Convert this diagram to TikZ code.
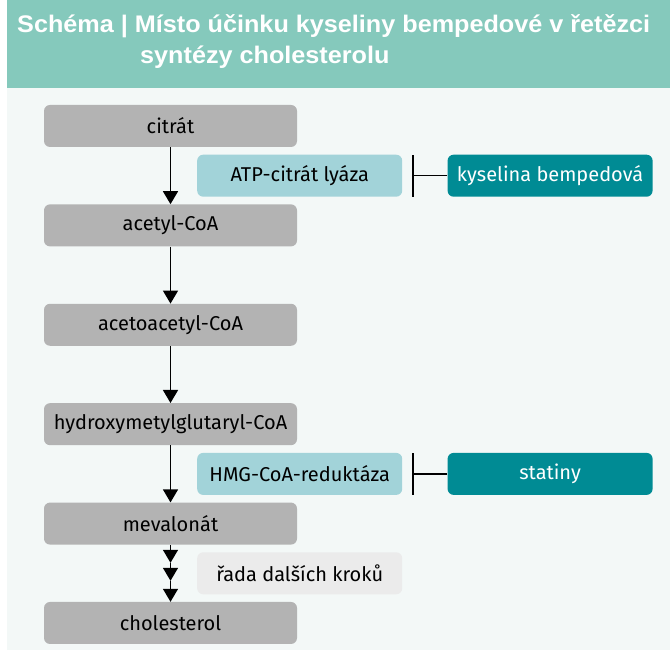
\documentclass[tikz,border=0pt]{standalone}
\usepackage{fontspec}
\setmainfont{Fira Sans}
\newfontfamily\titlefont[FakeStretch=1.05]{Liberation Sans}
\usetikzlibrary{arrows.meta, positioning, calc}

\definecolor{headteal}{HTML}{85C9BC}
\definecolor{panelbg}{HTML}{F3F8F7}
\definecolor{stepgray}{HTML}{B3B3B3}
\definecolor{enzblue}{HTML}{A2D3D9}
\definecolor{drugteal}{HTML}{008B94}
\definecolor{notegray}{HTML}{EBEBEB}

\begin{document}
\begin{tikzpicture}[
  x=1pt, y=1pt,
  heading/.style = {anchor=base west, inner sep=0pt, text=white, font=\titlefont\bfseries\fontsize{24}{31}\selectfont},
  metab/.style = {fill=stepgray, rounded corners=6pt, minimum width=253pt, minimum height=42pt, inner sep=0pt, font=\fontsize{20}{24}\selectfont},
  enzyme/.style = {fill=enzblue, rounded corners=6pt, minimum width=205pt, minimum height=42pt, inner sep=0pt, font=\fontsize{20}{24}\selectfont},
  drug/.style = {enzyme, fill=drugteal, text=white},
  note/.style = {enzyme, fill=notegray},
  arrow/.style = {line width=1.4pt, -{Triangle[width=15pt,length=13pt]}},
  inhibit/.style = {line width=1.4pt, -{Bar[width=42pt, line width'=2pt]}},
  node distance=57pt and 45pt
]
  \useasboundingbox (0,0) rectangle (670,650);

  % ======================================================
  % Header and panel
  % ======================================================
  \fill[panelbg] (7,0) rectangle (670,562);
  \fill[headteal] (7,562) rectangle (670,650);

  \node[heading] (title) at (17,617) {Schéma | Místo účinku kyseliny bempedové v řetězci};
  \node[heading] (subtitle) at (140,586) {syntézy cholesterolu};

  % ======================================================
  % Synthesis chain (grey blocks)
  % ======================================================
  \node[metab] (citrat) at (170.5,524) {citrát};
  \node[metab, below=of citrat] (acetyl) {acetyl-CoA};
  \node[metab, below=of acetyl] (acetoacetyl) {acetoacetyl-CoA};
  \node[metab, below=of acetoacetyl] (hmgcoa) {hydroxymetylglutaryl-CoA};
  \node[metab, below=of hmgcoa] (mevalonat) {mevalonát};
  \node[metab, below=of mevalonat] (cholesterol) {cholesterol};

  % enzymes beside the chain
  \node[enzyme, anchor=west] (lyaza) at ($(citrat.south)!0.5!(acetyl.north) + (26.5,0)$) {ATP-citrát lyáza};
  \node[enzyme, anchor=west] (reduktaza) at ($(hmgcoa.south)!0.5!(mevalonat.north) + (26.5,0)$) {HMG-CoA-reduktáza};
  \node[note, anchor=west] (kroky) at ($(mevalonat.south)!0.5!(cholesterol.north) + (26.5,0)$) {řada dalších kroků};

  % inhibitors
  \node[drug, right=of lyaza] (bemped) {kyselina bempedová};
  \node[drug, right=of reduktaza] (statiny) {statiny};

  % ======================================================
  % Connectors
  % ======================================================
  \draw[arrow] (citrat) -- (acetyl);
  \draw[arrow] (acetyl) -- (acetoacetyl);
  \draw[arrow] (acetoacetyl) -- (hmgcoa);
  \draw[arrow] (hmgcoa) -- (mevalonat);

  % several steps to cholesterol
  \coordinate[below=18pt of mevalonat.south] (krok1);
  \coordinate[below=18pt of krok1] (krok2);
  \draw[arrow] (mevalonat) -- (krok1);
  \draw[arrow] (krok1) -- (krok2);
  \draw[arrow] (krok2) -- (cholesterol);

  % inhibition
  \draw[inhibit] (bemped.west) -- ([xshift=10pt]lyaza.east);
  \draw[inhibit] (statiny.west) -- ([xshift=10pt]reduktaza.east);

\end{tikzpicture}
\end{document}
